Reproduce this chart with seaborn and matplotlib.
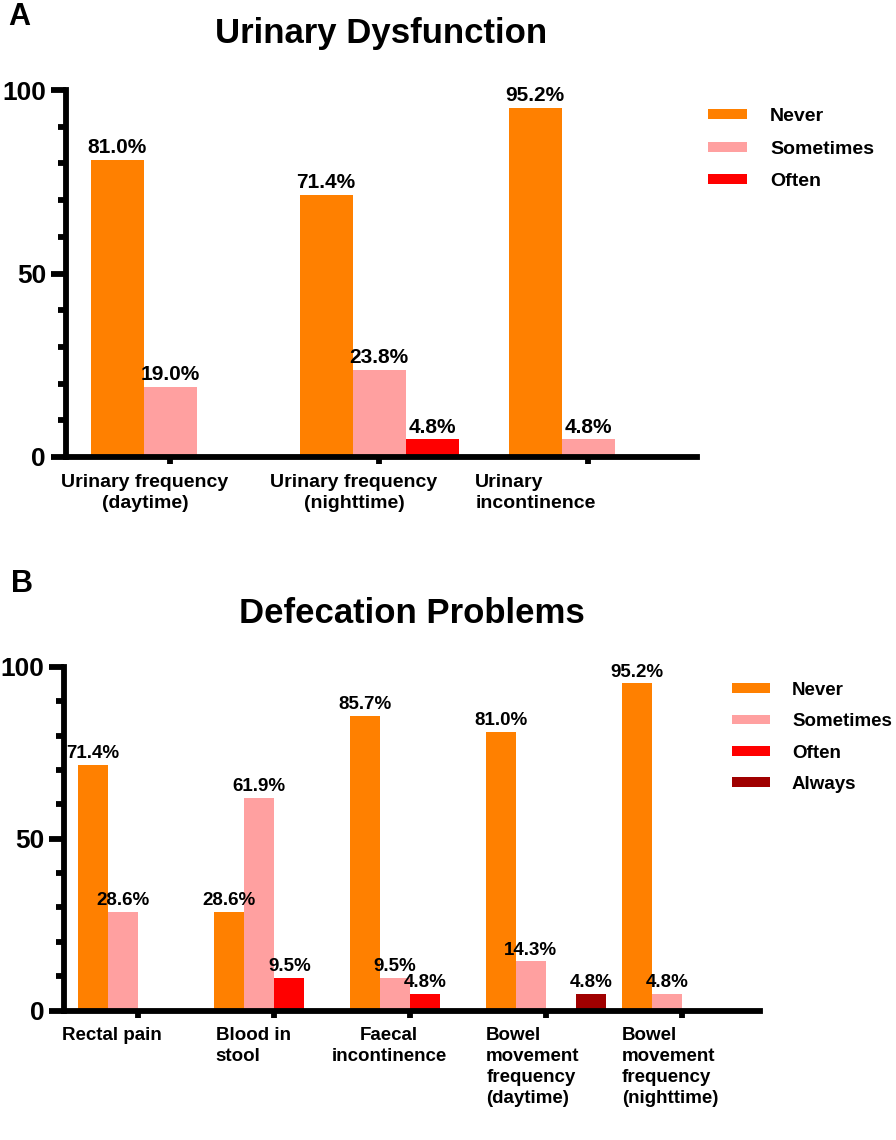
import numpy as np
import pandas as pd
import matplotlib
matplotlib.use('Agg')
import matplotlib.pyplot as plt
from matplotlib.patches import Patch
from matplotlib.ticker import MultipleLocator
import seaborn as sns

# ============================
# 1. Data (percent of patients)
# ============================
levels_a = ['Never', 'Sometimes', 'Often']
levels_b = ['Never', 'Sometimes', 'Often', 'Always']

urinary_items = ['Urinary frequency\n(daytime)', 'Urinary frequency\n(nighttime)',
                 'Urinary\nincontinence']
urinary_never = [81.0, 71.4, 95.2]
urinary_sometimes = [19.0, 23.8, 4.8]
urinary_often = [np.nan, 4.8, np.nan]

bowel_items = ['Rectal pain', 'Blood in\nstool', 'Faecal\nincontinence',
               'Bowel\nmovement\nfrequency\n(daytime)',
               'Bowel\nmovement\nfrequency\n(nighttime)']
bowel_never = [71.4, 28.6, 85.7, 81.0, 95.2]
bowel_sometimes = [28.6, 61.9, 9.5, 14.3, 4.8]
bowel_often = [np.nan, 9.5, 4.8, np.nan, np.nan]
bowel_always = [np.nan, np.nan, np.nan, 4.8, np.nan]

colors = {'Never': '#FF8000', 'Sometimes': '#FFA0A0', 'Often': '#FF0000', 'Always': '#A00000'}


def to_long(items, series):
    rows = []
    for level, vals in series.items():
        for item, v in zip(items, vals):
            rows.append({'item': item, 'level': level, 'pct': v})
    return pd.DataFrame(rows).dropna()


df_a = to_long(urinary_items, {'Never': urinary_never, 'Sometimes': urinary_sometimes,
                               'Often': urinary_often})
df_b = to_long(bowel_items, {'Never': bowel_never, 'Sometimes': bowel_sometimes,
                             'Often': bowel_often, 'Always': bowel_always})

# ============================
# 2. Style
# ============================
sns.set_style('ticks')
plt.rcParams['font.family'] = ['Liberation Sans', 'DejaVu Sans']
plt.rcParams['font.weight'] = 'bold'
for k in ['text.color', 'axes.labelcolor', 'xtick.color', 'ytick.color', 'axes.edgecolor']:
    plt.rcParams[k] = 'black'

W, H = 896, 1140
fig = plt.figure(figsize=(W / 100, H / 100), dpi=100)


def style_axes(ax, xlim):
    ax.set_ylim(0, 100)
    ax.set_xlim(*xlim)
    sns.despine(ax=ax)
    for s in ['left', 'bottom']:
        ax.spines[s].set_linewidth(4.2)
        ax.spines[s].set_color('black')
    ax.yaxis.set_major_locator(MultipleLocator(50))
    ax.yaxis.set_minor_locator(MultipleLocator(10))
    ax.tick_params(axis='y', which='major', length=11, width=4.2, labelsize=19, pad=3, color='black')
    ax.tick_params(axis='y', which='minor', length=5.5, width=4.2, color='black')
    ax.tick_params(axis='x', which='major', length=5, width=4.2, labelbottom=False, color='black')
    for t in ax.get_yticklabels():
        t.set_fontweight('bold')
    ax.set_xlabel('')
    ax.set_ylabel('')


def draw_panel(ax, df, items, levels, width, label_size, tick_size, label_x, label_align,
               label_pad, spacing):
    sns.barplot(data=df, x='item', y='pct', hue='level', order=items, hue_order=levels,
                palette=colors, width=width, errorbar=None, saturation=1, linewidth=0,
                legend=False, ax=ax)
    for c in ax.containers:
        ax.bar_label(c, labels=[f'{v:.1f}%' for v in c.datavalues], padding=2,
                     fontsize=label_size, fontweight='bold')
    for i, (name, dx, al) in enumerate(zip(items, label_x, label_align)):
        ax.annotate(name, xy=(i + dx, 0), xycoords=('data', 'axes fraction'),
                    xytext=(0, -label_pad), textcoords='offset points',
                    ha='left', va='top', multialignment=al, fontsize=tick_size,
                    fontweight='bold', linespacing=spacing)


# ---- Panel A
ax1 = fig.add_axes([65.5 / W, 1 - 457 / H, (697 - 65.5) / W, (457 - 90) / H])
draw_panel(ax1, df_a, urinary_items, levels_a, 0.76, 15, 14,
           [-0.52, -0.52, -0.54], ['center', 'center', 'left'], 12, 1.35)
style_axes(ax1, (-0.5, 2.52))
ax1.set_title('Urinary Dysfunction', fontsize=25, fontweight='bold', pad=34)

# ---- Panel B
ax2 = fig.add_axes([64 / W, 1 - 1010.5 / H, (760 - 64) / W, (1010.5 - 667) / H])
draw_panel(ax2, df_b, bowel_items, levels_b, 0.887, 13.5, 13.5,
           [-0.56, -0.43, -0.58, -0.44, -0.44], ['left', 'left', 'center', 'left', 'left'],
           12, 1.3)
style_axes(ax2, (-0.547, 4.575))
ax2.set_title('Defecation Problems', fontsize=25, fontweight='bold', pad=32)

# ---- Legends
for levels, x0, y0, fs, sp in [(levels_a, 708, 108, 14, 0.8), (levels_b, 732, 682, 13.5, 0.76)]:
    handles = [Patch(facecolor=colors[l], edgecolor='none', label=l) for l in levels]
    fig.legend(handles=handles, loc='upper left', bbox_to_anchor=(x0 / W, 1 - y0 / H),
               frameon=False, prop={'size': fs, 'weight': 'bold'}, handlelength=2.0,
               handleheight=0.42, handletextpad=1.2, labelspacing=sp,
               borderpad=0, borderaxespad=0)

# ---- Panel letters
fig.text(8 / W, 1 - 25 / H, 'A', fontsize=22, fontweight='bold', va='baseline')
fig.text(11 / W, 1 - 592 / H, 'B', fontsize=22, fontweight='bold', va='baseline')

fig.savefig('out.png', dpi=100)
